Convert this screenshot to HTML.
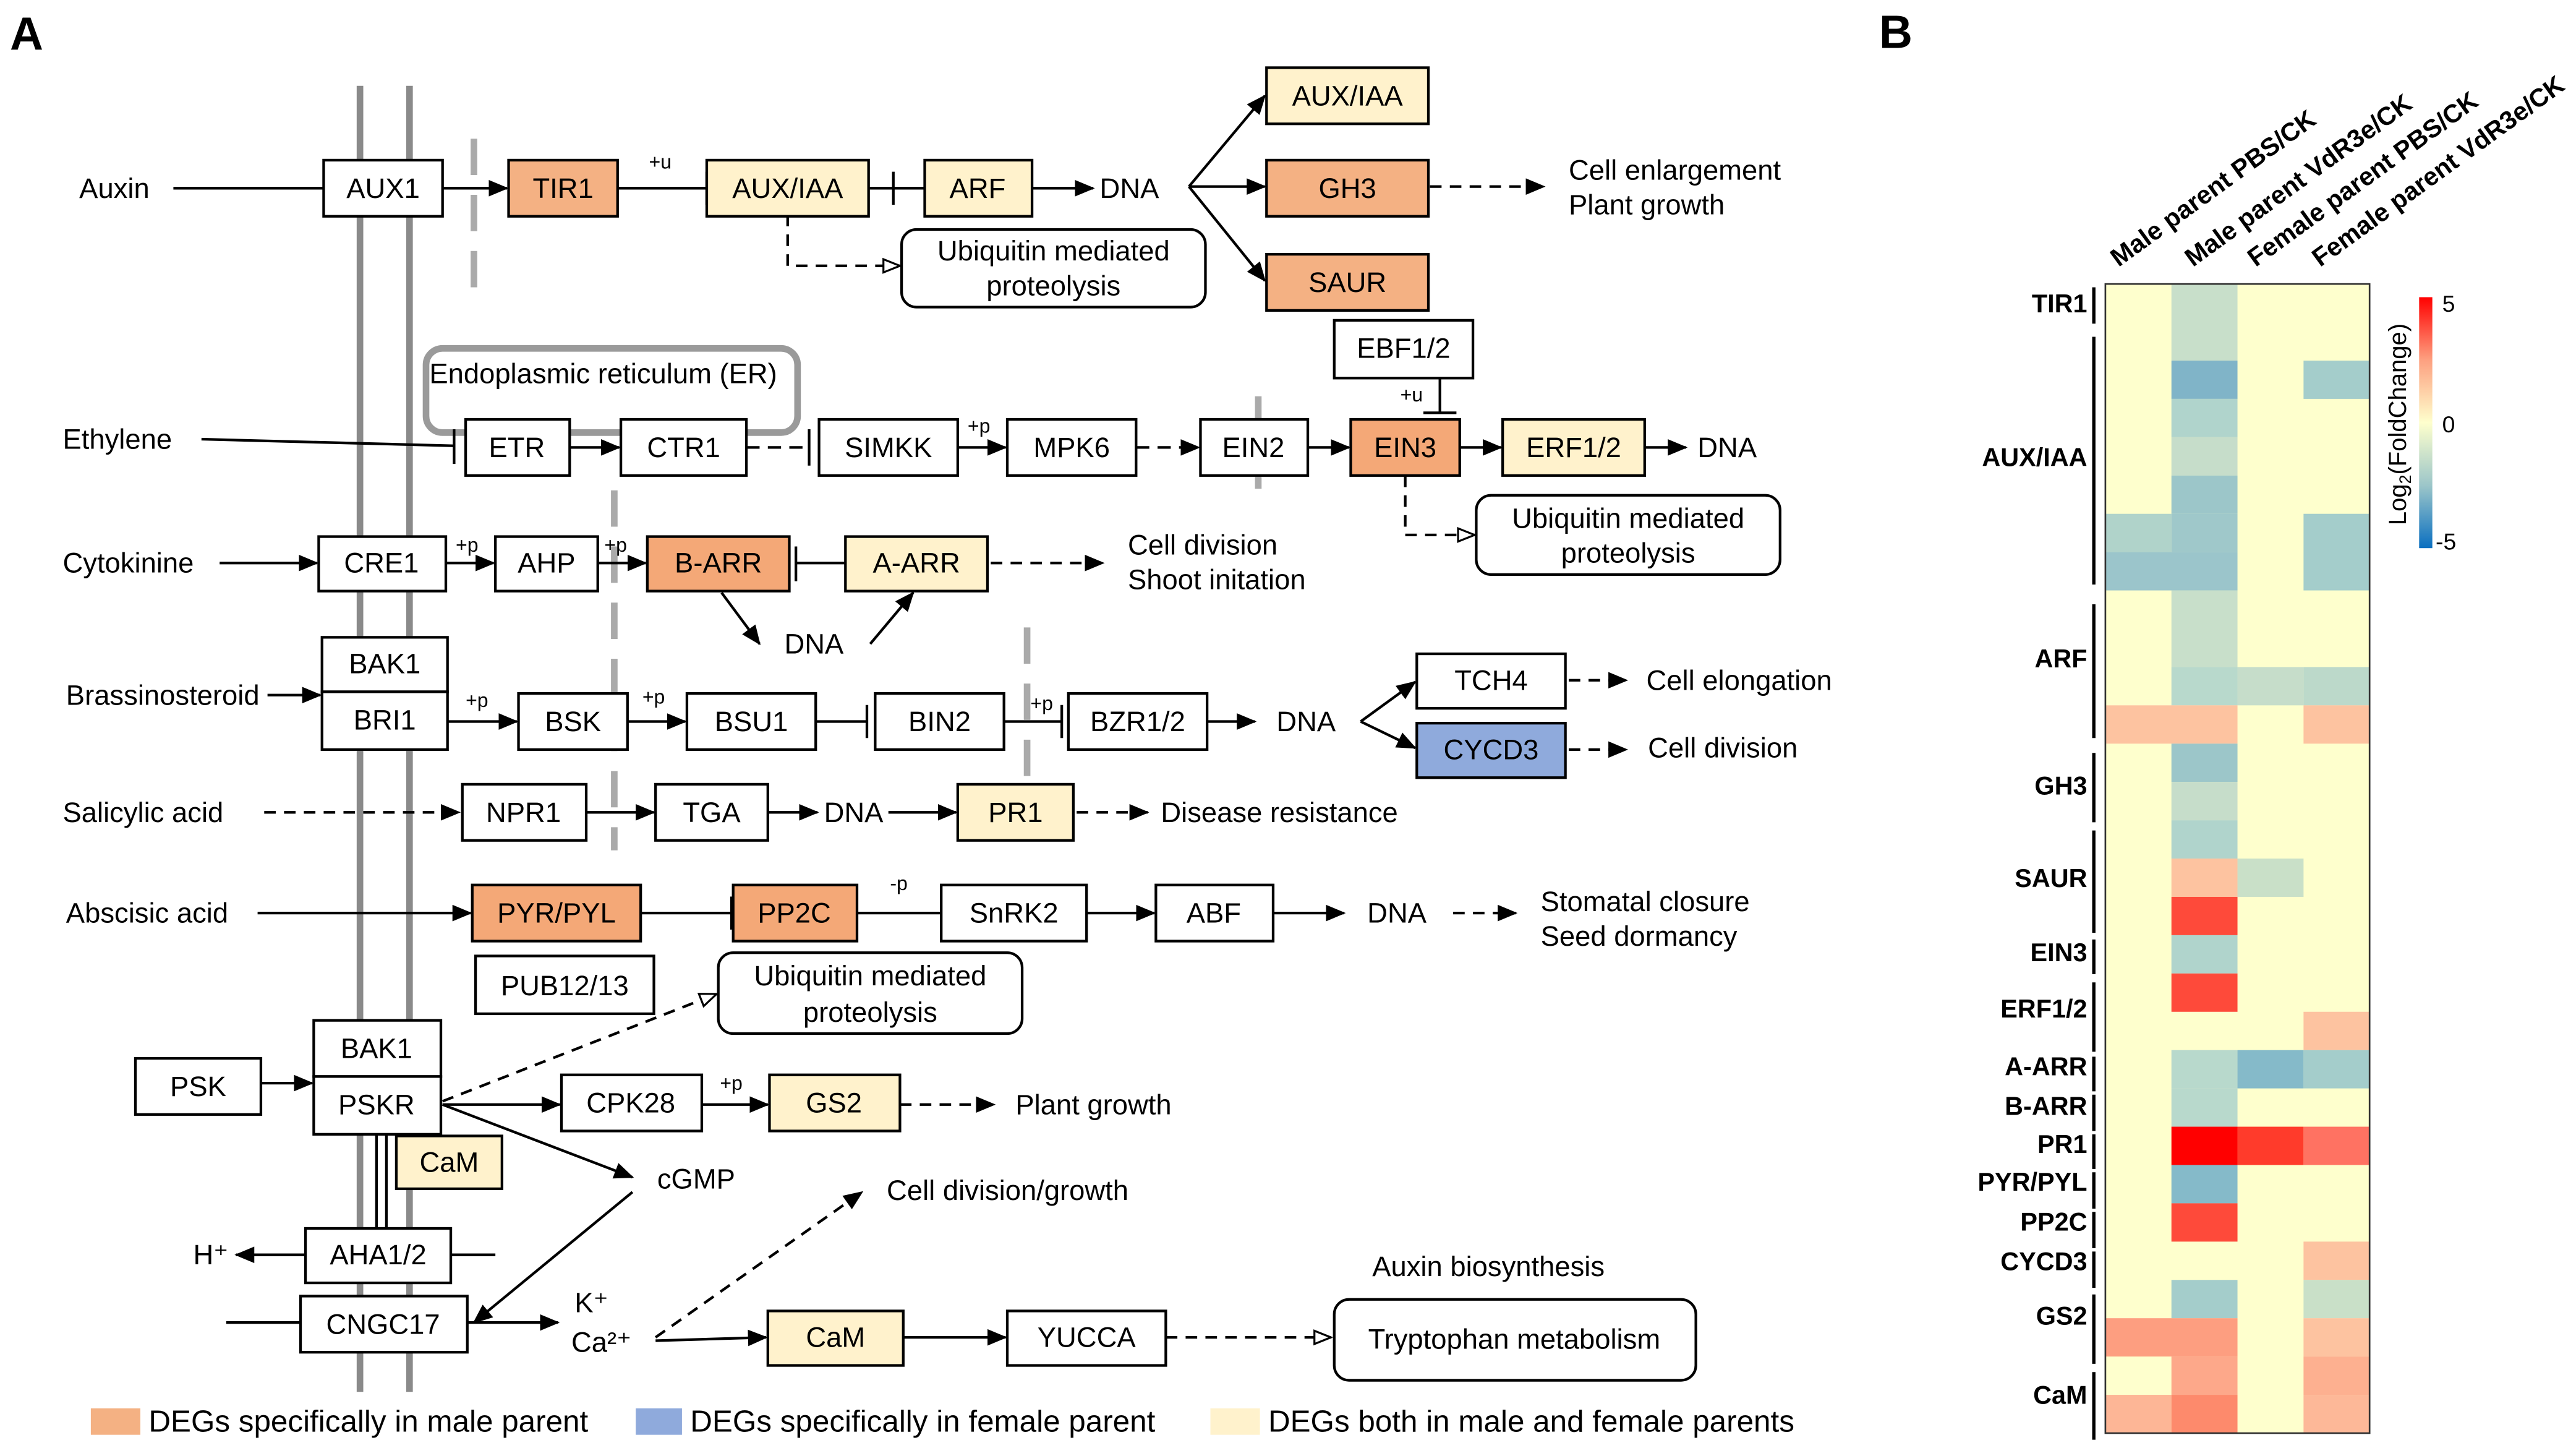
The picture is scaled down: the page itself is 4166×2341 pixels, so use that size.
<!DOCTYPE html>
<html><head><meta charset="utf-8"><style>
html,body{margin:0;padding:0;background:#fff}
svg{display:block}
text{font-family:"Liberation Sans",Arial,sans-serif;fill:#000}
</style></head><body>
<svg width="4166" height="2341" viewBox="0 0 1560 877" preserveAspectRatio="none" xmlns="http://www.w3.org/2000/svg">
<defs>
<marker id="a" markerWidth="12" markerHeight="10" refX="11" refY="5" orient="auto" markerUnits="userSpaceOnUse"><path d="M0,0 L12,5 L0,10 z" fill="#000"/></marker>
<marker id="h" markerWidth="12" markerHeight="10" refX="11" refY="5" orient="auto" markerUnits="userSpaceOnUse"><path d="M1,1 L11,5 L1,9 z" fill="#fff" stroke="#000" stroke-width="1.2"/></marker>
</defs>
<text x="6" y="30" font-size="28" font-weight="bold">A</text>
<text x="1138" y="29" font-size="28" font-weight="bold">B</text>

<g stroke="#8a8a8a" stroke-width="4"><line x1="218" y1="52" x2="218" y2="843"/><line x1="248" y1="52" x2="248" y2="843"/></g>
<g stroke="#aaa" stroke-width="4" stroke-dasharray="22,12"><line x1="287" y1="84" x2="287" y2="180"/><line x1="372" y1="297" x2="372" y2="515"/><line x1="622" y1="380" x2="622" y2="472"/><line x1="762" y1="240" x2="762" y2="306"/></g>
<rect x="258" y="211" width="225" height="51" rx="10" fill="none" stroke="#9a9a9a" stroke-width="4"/>
<text x="260" y="232" font-size="17">Endoplasmic reticulum (ER)</text>

<g stroke="#000" stroke-width="1.6" fill="none">
<line x1="105" y1="114" x2="196" y2="114"/>
<line x1="268" y1="114" x2="307" y2="114" marker-end="url(#a)"/>
<line x1="374" y1="114" x2="428" y2="114"/><line x1="428" y1="104" x2="428" y2="124"/>
<line x1="526" y1="114" x2="560" y2="114"/><line x1="541" y1="104" x2="541" y2="124"/>
<line x1="625" y1="114" x2="662" y2="114" marker-end="url(#a)"/>
<line x1="720" y1="113" x2="766" y2="58" marker-end="url(#a)"/>
<line x1="720" y1="113" x2="766" y2="113" marker-end="url(#a)"/>
<line x1="720" y1="113" x2="766" y2="170" marker-end="url(#a)"/>
<line x1="866" y1="113" x2="935" y2="113" stroke-dasharray="7,5" marker-end="url(#a)"/>
<polyline points="477,130 477,161 545,161" stroke-dasharray="7,5" marker-end="url(#h)"/>
<line x1="122" y1="266" x2="275" y2="270"/><line x1="275" y1="260" x2="275" y2="281"/>
<line x1="345" y1="271" x2="375" y2="271" marker-end="url(#a)"/>
<line x1="452" y1="271" x2="490" y2="271" stroke-dasharray="8,5"/><line x1="490" y1="260" x2="490" y2="282"/>
<line x1="580" y1="271" x2="609" y2="271" marker-end="url(#a)"/>
<line x1="688" y1="271" x2="726" y2="271" stroke-dasharray="8,5" marker-end="url(#a)"/>
<line x1="792" y1="271" x2="817" y2="271" marker-end="url(#a)"/>
<line x1="884" y1="271" x2="909" y2="271" marker-end="url(#a)"/>
<line x1="996" y1="271" x2="1021" y2="271" marker-end="url(#a)"/>
<line x1="872" y1="229" x2="872" y2="250"/><line x1="862" y1="250" x2="882" y2="250"/>
<polyline points="851,288 851,324 893,324" stroke-dasharray="7,5" marker-end="url(#h)"/>
<line x1="133" y1="341" x2="192" y2="341" marker-end="url(#a)"/>
<line x1="270" y1="341" x2="299" y2="341" marker-end="url(#a)"/>
<line x1="362" y1="341" x2="391" y2="341" marker-end="url(#a)"/>
<line x1="482" y1="341" x2="512" y2="341"/><line x1="482" y1="331" x2="482" y2="352"/>
<line x1="600" y1="341" x2="668" y2="341" stroke-dasharray="7,5" marker-end="url(#a)"/>
<line x1="437" y1="359" x2="460" y2="390" marker-end="url(#a)"/>
<line x1="527" y1="390" x2="553" y2="359" marker-end="url(#a)"/>
<line x1="162" y1="421" x2="194" y2="421" marker-end="url(#a)"/>
<line x1="271" y1="437" x2="313" y2="437" marker-end="url(#a)"/>
<line x1="380" y1="437" x2="415" y2="437" marker-end="url(#a)"/>
<line x1="494" y1="437" x2="525" y2="437"/><line x1="525" y1="427" x2="525" y2="447"/>
<line x1="608" y1="437" x2="643" y2="437"/><line x1="643" y1="427" x2="643" y2="447"/>
<line x1="731" y1="437" x2="760" y2="437" marker-end="url(#a)"/>
<line x1="824" y1="437" x2="857" y2="413" marker-end="url(#a)"/>
<line x1="824" y1="437" x2="857" y2="453" marker-end="url(#a)"/>
<line x1="950" y1="412" x2="985" y2="412" stroke-dasharray="7,5" marker-end="url(#a)"/>
<line x1="950" y1="454" x2="985" y2="454" stroke-dasharray="7,5" marker-end="url(#a)"/>
<line x1="160" y1="492" x2="278" y2="492" stroke-dasharray="7,5" marker-end="url(#a)"/>
<line x1="355" y1="492" x2="396" y2="492" marker-end="url(#a)"/>
<line x1="465" y1="492" x2="495" y2="492" marker-end="url(#a)"/>
<line x1="538" y1="492" x2="579" y2="492" marker-end="url(#a)"/>
<line x1="652" y1="492" x2="695" y2="492" stroke-dasharray="7,5" marker-end="url(#a)"/>
<line x1="156" y1="553" x2="285" y2="553" marker-end="url(#a)"/>
<line x1="388" y1="553" x2="443" y2="553"/><line x1="443" y1="543" x2="443" y2="563"/>
<line x1="519" y1="553" x2="570" y2="553"/><line x1="570" y1="543" x2="570" y2="563"/>
<line x1="658" y1="553" x2="699" y2="553" marker-end="url(#a)"/>
<line x1="771" y1="553" x2="814" y2="553" marker-end="url(#a)"/>
<line x1="880" y1="553" x2="918" y2="553" stroke-dasharray="7,5" marker-end="url(#a)"/>
<line x1="268" y1="667" x2="434" y2="602" stroke-dasharray="7,5" marker-end="url(#h)"/>
<line x1="158" y1="656" x2="189" y2="656" marker-end="url(#a)"/>
<line x1="268" y1="669" x2="339" y2="669" marker-end="url(#a)"/>
<line x1="425" y1="669" x2="465" y2="669" marker-end="url(#a)"/>
<line x1="545" y1="669" x2="602" y2="669" stroke-dasharray="7,5" marker-end="url(#a)"/>
<line x1="268" y1="669" x2="383" y2="713" marker-end="url(#a)"/>
<line x1="383" y1="722" x2="287" y2="801" marker-end="url(#a)"/>
<line x1="228" y1="687" x2="228" y2="744"/><line x1="234" y1="687" x2="234" y2="744"/>
<line x1="185" y1="760" x2="143" y2="760" marker-end="url(#a)"/>
<line x1="273" y1="760" x2="300" y2="760"/>
<line x1="137" y1="801" x2="182" y2="801"/>
<line x1="283" y1="801" x2="338" y2="801" marker-end="url(#a)"/>
<line x1="397" y1="810" x2="522" y2="722" stroke-dasharray="7,5" marker-end="url(#a)"/>
<line x1="397" y1="812" x2="464" y2="810" marker-end="url(#a)"/>
<line x1="547" y1="810" x2="609" y2="810" marker-end="url(#a)"/>
<line x1="706" y1="810" x2="806" y2="810" stroke-dasharray="7,5" marker-end="url(#h)"/>
</g>

<g stroke="#000" stroke-width="1.6">
<rect x="196" y="97" width="72" height="34" fill="#fff"/>
<rect x="308" y="97" width="66" height="34" fill="#f4b183"/>
<rect x="428" y="97" width="98" height="34" fill="#fff2cc"/>
<rect x="560" y="97" width="65" height="34" fill="#fff2cc"/>
<rect x="767" y="41" width="98" height="34" fill="#fff2cc"/>
<rect x="767" y="97" width="98" height="34" fill="#f4b183"/>
<rect x="767" y="154" width="98" height="34" fill="#f4b183"/>
<rect x="546" y="139" width="184" height="47" rx="9" fill="#fff"/>
<rect x="282" y="254" width="63" height="34" fill="#fff"/>
<rect x="376" y="254" width="76" height="34" fill="#fff"/>
<rect x="496" y="254" width="84" height="34" fill="#fff"/>
<rect x="610" y="254" width="78" height="34" fill="#fff"/>
<rect x="727" y="254" width="65" height="34" fill="#fff"/>
<rect x="818" y="254" width="66" height="34" fill="#f4a877"/>
<rect x="910" y="254" width="86" height="34" fill="#fff2cc"/>
<rect x="808" y="194" width="84" height="35" fill="#fff"/>
<rect x="894" y="300" width="184" height="48" rx="9" fill="#fff"/>
<rect x="193" y="325" width="77" height="33" fill="#fff"/>
<rect x="300" y="325" width="62" height="33" fill="#fff"/>
<rect x="392" y="325" width="86" height="33" fill="#f4a877"/>
<rect x="512" y="325" width="86" height="33" fill="#fff2cc"/>
<rect x="195" y="386" width="76" height="33" fill="#fff"/>
<rect x="195" y="419" width="76" height="35" fill="#fff"/>
<rect x="314" y="420" width="66" height="34" fill="#fff"/>
<rect x="416" y="420" width="78" height="34" fill="#fff"/>
<rect x="530" y="420" width="78" height="34" fill="#fff"/>
<rect x="647" y="420" width="84" height="34" fill="#fff"/>
<rect x="858" y="396" width="90" height="33" fill="#fff"/>
<rect x="858" y="438" width="90" height="33" fill="#8faadc"/>
<rect x="280" y="475" width="75" height="34" fill="#fff"/>
<rect x="397" y="475" width="68" height="34" fill="#fff"/>
<rect x="580" y="475" width="70" height="34" fill="#fff2cc"/>
<rect x="286" y="536" width="102" height="34" fill="#f4a877"/>
<rect x="444" y="536" width="75" height="34" fill="#f4a877"/>
<rect x="570" y="536" width="88" height="34" fill="#fff"/>
<rect x="700" y="536" width="71" height="34" fill="#fff"/>
<rect x="288" y="579" width="108" height="35" fill="#fff"/>
<rect x="435" y="577" width="184" height="49" rx="9" fill="#fff"/>
<rect x="82" y="641" width="76" height="34" fill="#fff"/>
<rect x="190" y="618" width="77" height="34" fill="#fff"/>
<rect x="190" y="652" width="77" height="35" fill="#fff"/>
<rect x="340" y="651" width="85" height="34" fill="#fff"/>
<rect x="466" y="651" width="79" height="34" fill="#fff2cc"/>
<rect x="240" y="688" width="64" height="32" fill="#fff2cc"/>
<rect x="185" y="744" width="88" height="33" fill="#fff"/>
<rect x="182" y="785" width="101" height="34" fill="#fff"/>
<rect x="465" y="794" width="82" height="33" fill="#fff2cc"/>
<rect x="610" y="794" width="96" height="33" fill="#fff"/>
<rect x="808" y="787" width="219" height="49" rx="9" fill="#fff"/>
</g>

<g font-size="17" text-anchor="middle" dominant-baseline="central">
<text x="232" y="114">AUX1</text><text x="341" y="114">TIR1</text><text x="477" y="114">AUX/IAA</text><text x="592" y="114">ARF</text>
<text x="816" y="58">AUX/IAA</text><text x="816" y="114">GH3</text><text x="816" y="171">SAUR</text>
<text x="638" y="152">Ubiquitin mediated</text><text x="638" y="173">proteolysis</text>
<text x="313" y="271">ETR</text><text x="414" y="271">CTR1</text><text x="538" y="271">SIMKK</text><text x="649" y="271">MPK6</text><text x="759" y="271">EIN2</text><text x="851" y="271">EIN3</text><text x="953" y="271">ERF1/2</text><text x="850" y="211">EBF1/2</text>
<text x="986" y="314">Ubiquitin mediated</text><text x="986" y="335">proteolysis</text>
<text x="231" y="341">CRE1</text><text x="331" y="341">AHP</text><text x="435" y="341">B-ARR</text><text x="555" y="341">A-ARR</text>
<text x="233" y="402">BAK1</text><text x="233" y="436">BRI1</text><text x="347" y="437">BSK</text><text x="455" y="437">BSU1</text><text x="569" y="437">BIN2</text><text x="689" y="437">BZR1/2</text>
<text x="903" y="412">TCH4</text><text x="903" y="454">CYCD3</text>
<text x="317" y="492">NPR1</text><text x="431" y="492">TGA</text><text x="615" y="492">PR1</text>
<text x="337" y="553">PYR/PYL</text><text x="481" y="553">PP2C</text><text x="614" y="553">SnRK2</text><text x="735" y="553">ABF</text>
<text x="342" y="597">PUB12/13</text>
<text x="527" y="591">Ubiquitin mediated</text><text x="527" y="613">proteolysis</text>
<text x="120" y="658">PSK</text><text x="228" y="635">BAK1</text><text x="228" y="669">PSKR</text><text x="382" y="668">CPK28</text><text x="505" y="668">GS2</text><text x="272" y="704">CaM</text>
<text x="229" y="760">AHA1/2</text><text x="232" y="802">CNGC17</text><text x="506" y="810">CaM</text><text x="658" y="810">YUCCA</text>
<text x="917" y="811">Tryptophan metabolism</text>
</g>
<g font-size="17" dominant-baseline="central">
<text x="48" y="114">Auxin</text><text x="666" y="114">DNA</text>
<text x="950" y="103">Cell enlargement</text><text x="950" y="124">Plant growth</text>
<text x="38" y="266">Ethylene</text><text x="1028" y="271">DNA</text>
<text x="38" y="341">Cytokinine</text><text x="683" y="330">Cell division</text><text x="683" y="351">Shoot initation</text><text x="475" y="390">DNA</text>
<text x="40" y="421">Brassinosteroid</text><text x="773" y="437">DNA</text><text x="997" y="412">Cell elongation</text><text x="998" y="453">Cell division</text>
<text x="38" y="492">Salicylic acid</text><text x="499" y="492">DNA</text><text x="703" y="492">Disease resistance</text>
<text x="40" y="553">Abscisic acid</text><text x="828" y="553">DNA</text><text x="933" y="546">Stomatal closure</text><text x="933" y="567">Seed dormancy</text>
<text x="615" y="669">Plant growth</text><text x="398" y="714">cGMP</text><text x="537" y="721">Cell division/growth</text>
<text x="117" y="760">H⁺</text><text x="348" y="789">K⁺</text><text x="346" y="813">Ca²⁺</text>
<text x="831" y="767">Auxin biosynthesis</text>
</g>
<g font-size="12" dominant-baseline="central">
<text x="393" y="98">+u</text><text x="848" y="239">+u</text><text x="586" y="258">+p</text><text x="276" y="330">+p</text><text x="366" y="330">+p</text>
<text x="282" y="424">+p</text><text x="389" y="422">+p</text><text x="624" y="426">+p</text><text x="436" y="656">+p</text><text x="539" y="535">-p</text>
</g>
<rect x="55" y="853" width="30" height="16" fill="#f4b183"/><text x="90" y="867" font-size="18.5">DEGs specifically in male parent</text>
<rect x="385" y="853" width="28" height="16" fill="#8faadc"/><text x="418" y="867" font-size="18.5">DEGs specifically in female parent</text>
<rect x="733" y="853" width="30" height="16" fill="#fff2cc"/><text x="768" y="867" font-size="18.5">DEGs both in male and female parents</text>

<g transform="translate(1275,172)">
<rect x="0" y="0" width="160" height="696" fill="#feffcd"/>
<g>
<rect x="40" y="0" width="40" height="46.4" fill="#c8dfca"/>
<rect x="40" y="46.4" width="40" height="23.2" fill="#80b4c8"/><rect x="120" y="46.4" width="40" height="23.2" fill="#a4cdcb"/>
<rect x="40" y="69.6" width="40" height="23.2" fill="#b0d4cc"/>
<rect x="40" y="92.8" width="40" height="23.2" fill="#c6ddca"/>
<rect x="40" y="116" width="40" height="23.2" fill="#9cc6c9"/>
<rect x="0" y="139.2" width="40" height="23.2" fill="#b0d3ca"/><rect x="40" y="139.2" width="40" height="23.2" fill="#9fc8ca"/><rect x="120" y="139.2" width="40" height="46.4" fill="#a4cdcb"/>
<rect x="0" y="162.4" width="80" height="23.2" fill="#9bc5cb"/>
<rect x="40" y="185.6" width="40" height="46.4" fill="#c8dfca"/>
<rect x="40" y="232" width="40" height="23.2" fill="#b8d9cc"/><rect x="80" y="232" width="40" height="23.2" fill="#c6ddca"/><rect x="120" y="232" width="40" height="23.2" fill="#bcd9ca"/>
<rect x="0" y="255.2" width="80" height="23.2" fill="#fdc3a0"/><rect x="120" y="255.2" width="40" height="23.2" fill="#fdc3a0"/>
<rect x="40" y="278.4" width="40" height="23.2" fill="#9cc6c9"/>
<rect x="40" y="301.6" width="40" height="23.2" fill="#c6ddca"/>
<rect x="40" y="324.8" width="40" height="23.2" fill="#b0d4cc"/>
<rect x="40" y="348" width="40" height="23.2" fill="#fdc3a0"/><rect x="80" y="348" width="40" height="23.2" fill="#c9e0c8"/>
<rect x="40" y="371.2" width="40" height="23.2" fill="#fe4a3a"/>
<rect x="40" y="394.4" width="40" height="23.2" fill="#b0d4cc"/>
<rect x="40" y="417.6" width="40" height="23.2" fill="#fe4a3a"/>
<rect x="120" y="440.8" width="40" height="23.2" fill="#fdc3a0"/>
<rect x="40" y="464" width="40" height="23.2" fill="#b8d9cc"/><rect x="80" y="464" width="40" height="23.2" fill="#85bac9"/><rect x="120" y="464" width="40" height="23.2" fill="#a4cdcb"/>
<rect x="40" y="487.2" width="40" height="23.2" fill="#b8d9cc"/>
<rect x="40" y="510.4" width="40" height="23.2" fill="#ff0000"/><rect x="80" y="510.4" width="40" height="23.2" fill="#ff3b2b"/><rect x="120" y="510.4" width="40" height="23.2" fill="#ff7262"/>
<rect x="40" y="533.6" width="40" height="23.2" fill="#85bac9"/>
<rect x="40" y="556.8" width="40" height="23.2" fill="#fe4a3a"/>
<rect x="120" y="580" width="40" height="23.2" fill="#fdc3a0"/>
<rect x="40" y="603.2" width="40" height="23.2" fill="#a4cdcb"/><rect x="120" y="603.2" width="40" height="23.2" fill="#c9e0c8"/>
<rect x="0" y="626.4" width="80" height="23.2" fill="#fd9e80"/><rect x="120" y="626.4" width="40" height="23.2" fill="#fdc3a0"/>
<rect x="40" y="649.6" width="40" height="23.2" fill="#fda88a"/><rect x="120" y="649.6" width="40" height="23.2" fill="#fdb090"/>
<rect x="0" y="672.8" width="40" height="23.2" fill="#fdb696"/><rect x="40" y="672.8" width="40" height="23.2" fill="#fd8a6c"/><rect x="120" y="672.8" width="40" height="23.2" fill="#fdb898"/>
</g>
<rect x="0" y="0" width="160" height="696" fill="none" stroke="#333" stroke-width="1"/>
</g>
<g stroke="#000" stroke-width="2">
<line x1="1268" y1="174" x2="1268" y2="196"/><line x1="1268" y1="204" x2="1268" y2="354"/><line x1="1268" y1="366" x2="1268" y2="447"/><line x1="1268" y1="456" x2="1268" y2="498"/><line x1="1268" y1="503" x2="1268" y2="565"/><line x1="1268" y1="569" x2="1268" y2="590"/><line x1="1268" y1="595" x2="1268" y2="637"/><line x1="1268" y1="640" x2="1268" y2="661"/><line x1="1268" y1="663" x2="1268" y2="685"/><line x1="1268" y1="687" x2="1268" y2="708"/><line x1="1268" y1="710" x2="1268" y2="732"/><line x1="1268" y1="734" x2="1268" y2="756"/><line x1="1268" y1="758" x2="1268" y2="780"/><line x1="1268" y1="784" x2="1268" y2="826"/><line x1="1268" y1="831" x2="1268" y2="872"/>
</g>
<g font-size="15.5" font-weight="bold" text-anchor="end" dominant-baseline="central">
<text x="1264" y="184">TIR1</text><text x="1264" y="277">AUX/IAA</text><text x="1264" y="399">ARF</text><text x="1264" y="476">GH3</text><text x="1264" y="532">SAUR</text><text x="1264" y="577">EIN3</text><text x="1264" y="611">ERF1/2</text><text x="1264" y="646">A-ARR</text><text x="1264" y="670">B-ARR</text><text x="1264" y="693">PR1</text><text x="1264" y="716">PYR/PYL</text><text x="1264" y="740">PP2C</text><text x="1264" y="764">CYCD3</text><text x="1264" y="797">GS2</text><text x="1264" y="845">CaM</text>
</g>
<g font-size="15.5" font-weight="bold">
<text transform="translate(1283,162) rotate(-36)">Male parent PBS/CK</text>
<text transform="translate(1328,162) rotate(-36)">Male parent VdR3e/CK</text>
<text transform="translate(1366,162) rotate(-36)">Female parent PBS/CK</text>
<text transform="translate(1405,162) rotate(-36)">Female parent VdR3e/CK</text>
</g>
<defs><linearGradient id="cb" x1="0" y1="0" x2="0" y2="1"><stop offset="0" stop-color="#ff0000"/><stop offset="0.25" stop-color="#fda080"/><stop offset="0.5" stop-color="#feffcd"/><stop offset="0.75" stop-color="#9cc6c9"/><stop offset="1" stop-color="#0a6fc0"/></linearGradient></defs>
<rect x="1465" y="180" width="8" height="152" fill="url(#cb)"/>
<g font-size="14" dominant-baseline="central"><text x="1479" y="184">5</text><text x="1479" y="257">0</text><text x="1475" y="328">-5</text></g>
<text transform="translate(1457,257) rotate(-90)" font-size="15" text-anchor="middle">Log<tspan font-size="10" dy="3">2</tspan><tspan dy="-3">(FoldChange)</tspan></text>
</svg>
</body></html>
